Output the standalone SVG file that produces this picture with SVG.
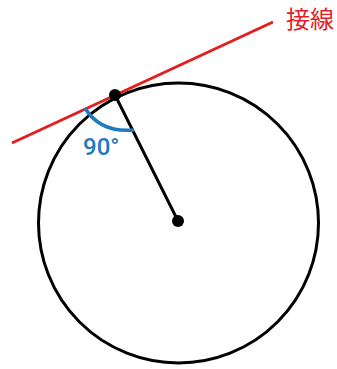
<svg xmlns="http://www.w3.org/2000/svg" width="337" height="369" viewBox="0 0 337 369">
<style>
.blk{stroke:#000;stroke-width:3;fill:none}
.dot{fill:#000}
.red{stroke:#e31e1e;stroke-width:3;fill:none}
.blue{stroke:#1f7ac0;stroke-width:3.5;fill:none}
.lbl-red{font-family:"Noto Sans CJK JP","Noto Sans",sans-serif;font-size:24px;fill:#e31e2a}
.lbl-blue{font-family:Roboto,"Noto Sans",sans-serif;font-size:24px;font-weight:500;fill:#1f7ac0}
</style>
<rect width="337" height="369" fill="#fff"/>
<g id="circle"><circle class="blk" cx="178.5" cy="223" r="140"/></g>
<g id="connectors">
<line class="blk" x1="115" y1="95" x2="178" y2="221"/>
<line class="red" x1="12" y1="143" x2="273" y2="22"/>
</g>
<g id="angle"><path class="blue" d="M85,108 Q100,133 134,130"/>
<text class="lbl-blue" x="83" y="155">90°</text></g>
<g id="tangent-point"><circle class="dot" cx="115" cy="95" r="6"/></g>
<g id="center"><circle class="dot" cx="178" cy="221" r="6"/></g>
<g id="label"><text class="lbl-red" x="286" y="28">接線</text></g>
</svg>
